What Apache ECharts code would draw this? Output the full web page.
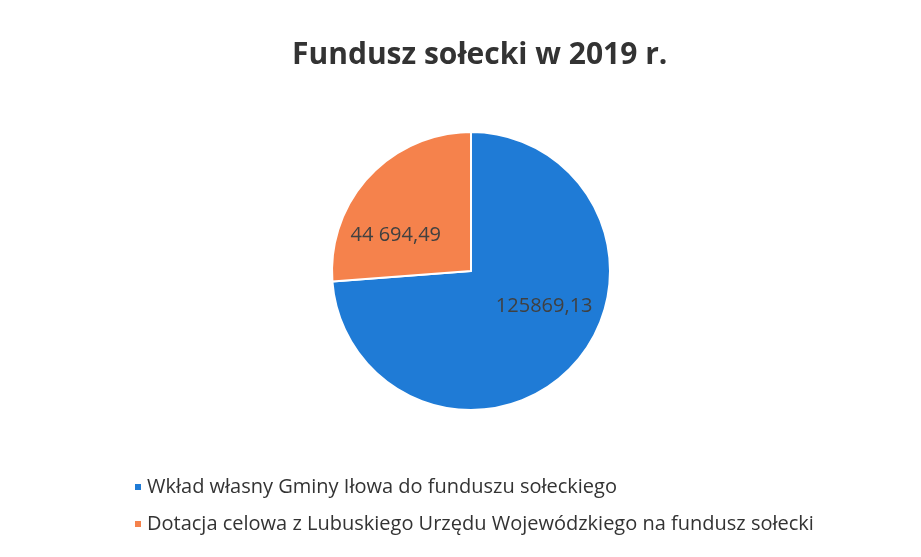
<!DOCTYPE html>
<html>
<head>
<meta charset="utf-8">
<script src="https://cdn.jsdelivr.net/npm/echarts@6/dist/echarts.min.js"></script>
<style>
  html, body { margin: 0; padding: 0; background: #fff; }
  #chart { width: 921px; height: 557px; }
</style>
</head>
<body>
<div id="chart"></div>
<script>
// dane wykresu
var categories = [
  'Wkład własny Gminy Iłowa do funduszu sołeckiego',
  'Dotacja celowa z Lubuskiego Urzędu Wojewódzkiego na fundusz sołecki'
]
var values = [125869.13, 44694.49]
var valueLabels = ['125869,13', '44 694,49']
var colors = ['#1F7BD6', '#F5824C']
var labelOffsets = [[20, -14], [-22, 14]]

var chart = echarts.init(document.getElementById('chart'))

var seriesData = categories.map(function (name, i) {
  return {
    name: name,
    value: values[i],
    itemStyle: { color: colors[i] },
    label: { offset: labelOffsets[i] }
  }
})

chart.setOption({
  backgroundColor: '#fff',
  title: {
    text: 'Fundusz sołecki w 2019 r.',
    left: 287,
    top: 35,
    textStyle: {
      fontFamily: 'Open Sans',
      fontWeight: 'bold',
      fontSize: 30,
      color: '#333'
    }
  },
  legend: {
    orient: 'vertical',
    left: 128,
    top: 472,
    itemGap: 17,
    itemWidth: 8,
    itemHeight: 8,
    icon: 'rect',
    textStyle: {
      fontFamily: 'Open Sans',
      fontSize: 20,
      color: '#333'
    }
  },
  series: [{
    type: 'pie',
    center: [471, 271],
    radius: 139,
    startAngle: 90,
    clockwise: true,
    avoidLabelOverlap: false,
    itemStyle: { borderColor: '#fff', borderWidth: 2 },
    label: {
      show: true,
      position: 'inside',
      fontFamily: 'Open Sans',
      fontSize: 20,
      color: '#404040',
      formatter: function (p) { return valueLabels[p.dataIndex] }
    },
    labelLine: { show: false },
    emphasis: { disabled: true },
    data: seriesData
  }]
})
</script>
</body>
</html>
